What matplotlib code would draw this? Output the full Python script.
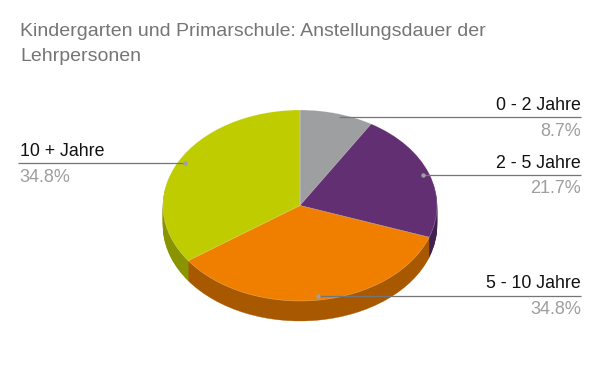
import matplotlib
matplotlib.use('Agg')
import matplotlib.pyplot as plt

titel = 'Kindergarten und Primarschule: Anstellungsdauer der\nLehrpersonen'
kategorien = ['0 - 2 Jahre', '2 - 5 Jahre', '5 - 10 Jahre', '10 + Jahre']
werte = [8.7, 21.7, 34.8, 34.8]
prozente = ['8.7%', '21.7%', '34.8%', '34.8%']
farben = ['#9e9fa1', '#622f73', '#f07f00', '#bfcd00']
farben_seite = ['#6e6f70', '#42204f', '#a85900', '#8a9400']

# Geometrie in Pixeln
cx, cy = 300, 205.5
rx, ry = 137, 95.5
tiefe = 20

plt.rcParams['font.family'] = ['Liberation Sans', 'DejaVu Sans']

fig = plt.figure(figsize=(6, 3.71), dpi=100)
ax = fig.add_axes([0, 0, 1, 1])

# Seitenwand: gestapelte Kuchen von unten nach oben
for d in range(tiefe, 0, -1):
    stuecke, _ = ax.pie(werte, colors=farben_seite, startangle=90, counterclock=False,
                        center=(0, -d / ry), radius=1)
    for s, f in zip(stuecke, farben_seite):
        s.set_edgecolor(f)
        s.set_linewidth(0.25)
ax.pie(werte, colors=farben, startangle=90, counterclock=False, center=(0, 0), radius=1,
       wedgeprops={'linewidth': 0.4, 'edgecolor': '#ffffff60'})

ax.set_aspect('auto')
ax.set_xlim(-cx / rx, (600 - cx) / rx)
ax.set_ylim((cy - 371) / ry, cy / ry)
ax.axis('off')

# Overlay in Pixelkoordinaten fuer Texte und Linien
ov = fig.add_axes([0, 0, 1, 1], facecolor='none')
ov.set_xlim(0, 600)
ov.set_ylim(371, 0)
ov.axis('off')

ov.text(20.5, 31.5, titel.split('\n')[0], fontsize=14, color='#757575', ha='left', va='center')
ov.text(20.5, 56.5, titel.split('\n')[1], fontsize=14, color='#757575', ha='left', va='center')

# (y Linie, x Punkt, x Rand, Ausrichtung)
linien = [(117, 337, 581, 'right'),
          (174.5, 423, 581, 'right'),
          (295.5, 318, 581, 'right'),
          (163, 185, 18, 'left')]

for i, (y, xp, xr, ha) in enumerate(linien):
    ov.plot([xp, xr], [y, y], color='#757575', lw=0.9, solid_capstyle='butt')
    ov.plot([xp], [y], 'o', color='#9e9fa1', ms=3.2, mew=0)
    xt = xr if ha == 'right' else xr + 1.5
    ov.text(xt, y - 11.5, kategorien[i], fontsize=12.8, color='#111111', ha=ha, va='center')
    ov.text(xt, y + 14, prozente[i], fontsize=13, color='#9e9e9e', ha=ha, va='center')

fig.savefig('out.png', dpi=100)
